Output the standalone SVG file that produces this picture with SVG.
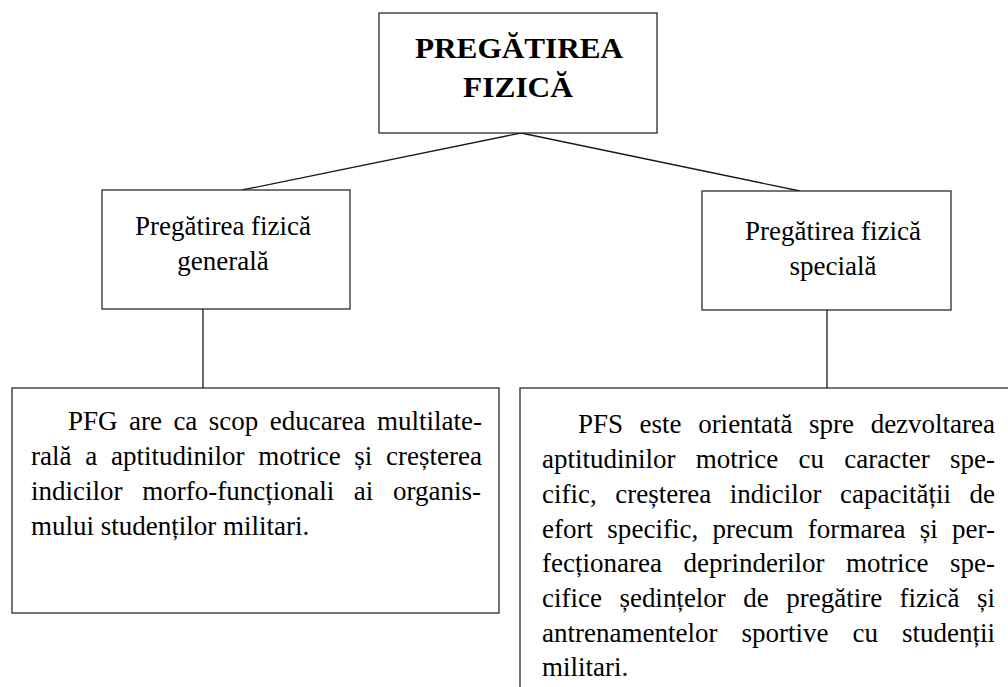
<svg xmlns="http://www.w3.org/2000/svg" width="1008" height="687" viewBox="0 0 1008 687">
<style>
.box{fill:#fff;stroke:#2b2b2b;stroke-width:1.3}
.conn{stroke:#1a1a1a;stroke-width:1.3;fill:none}
.title{font-family:"Liberation Serif","Times New Roman",serif;font-weight:bold;font-size:30px;fill:#000;text-anchor:middle}
.lbl{font-family:"Liberation Serif","Times New Roman",serif;font-size:27px;fill:#000;text-anchor:middle}
.body{font-family:"Liberation Serif","Times New Roman",serif;font-size:27px;fill:#000}
</style>
<rect width="1008" height="687" fill="#fff"/>
<g id="connectors">
<line class="conn" x1="521" y1="133" x2="242" y2="190"/>
<line class="conn" x1="521" y1="133" x2="800" y2="191"/>
<line class="conn" x1="203" y1="309" x2="203" y2="388"/>
<line class="conn" x1="827" y1="310" x2="827" y2="388"/>
</g>
<g id="node-root">
<rect class="box" x="379" y="13" width="278" height="120"/>
<text class="title" x="519" y="58" textLength="208" lengthAdjust="spacingAndGlyphs">PREGĂTIREA</text>
<text class="title" x="518" y="97" textLength="110" lengthAdjust="spacingAndGlyphs">FIZICĂ</text>
</g>
<g id="node-pfg">
<rect class="box" x="102" y="190" width="248" height="119"/>
<text class="lbl" x="223" y="235">Pregătirea fizică</text>
<text class="lbl" x="223" y="270">generală</text>
</g>
<g id="node-pfs">
<rect class="box" x="702" y="191" width="249" height="119"/>
<text class="lbl" x="833" y="240">Pregătirea fizică</text>
<text class="lbl" x="833" y="275">specială</text>
</g>
<g id="node-pfg-desc">
<rect class="box" x="12" y="388" width="487" height="225"/>
<text class="body" x="68" y="430" word-spacing="4.7" textLength="414">PFG are ca scop educarea multilate-</text>
<text class="body" x="31" y="465" word-spacing="7" textLength="451">rală a aptitudinilor motrice și creșterea</text>
<text class="body" x="31" y="500" word-spacing="12.8" textLength="450">indicilor morfo-funcționali ai organis-</text>
<text class="body" x="31" y="535">mului studenților militari.</text>
</g>
<g id="node-pfs-desc">
<rect class="box" x="520" y="388" width="600" height="400"/>
<text class="body" x="578" y="433" word-spacing="9.8" textLength="417">PFS este orientată spre dezvoltarea</text>
<text class="body" x="542" y="468" word-spacing="13.5" textLength="453">aptitudinilor motrice cu caracter spe-</text>
<text class="body" x="542" y="503" word-spacing="11.8" textLength="453">cific, creșterea indicilor capacității de</text>
<text class="body" x="542" y="538" word-spacing="7.5" textLength="453">efort specific, precum formarea și per-</text>
<text class="body" x="542" y="572" word-spacing="14.8" textLength="453">fecționarea deprinderilor motrice spe-</text>
<text class="body" x="542" y="607" word-spacing="10.7" textLength="453">cifice ședințelor de pregătire fizică și</text>
<text class="body" x="542" y="642" word-spacing="17.3" textLength="453">antrenamentelor sportive cu studenții</text>
<text class="body" x="542" y="676">militari.</text>
</g>
</svg>
